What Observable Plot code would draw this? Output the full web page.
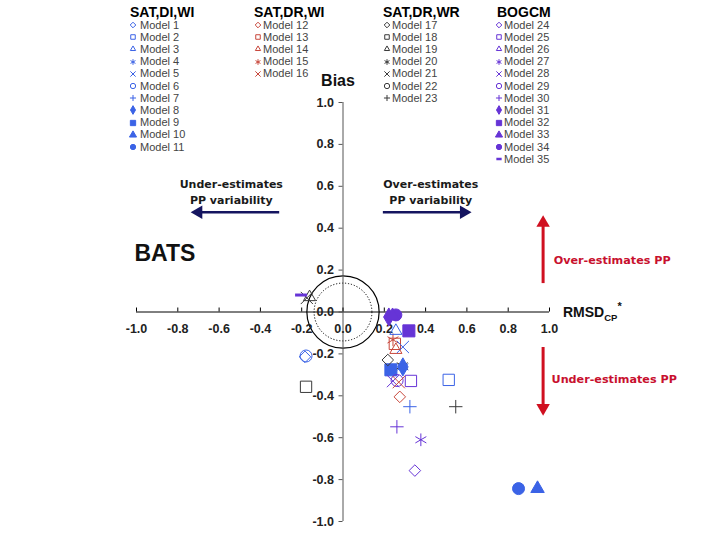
<!DOCTYPE html>
<html><head><meta charset="utf-8">
<script src="https://cdn.jsdelivr.net/npm/d3@7"></script>
<script src="https://cdn.jsdelivr.net/npm/@observablehq/plot@0.6"></script>
<style>
body{margin:0;background:#fff;}
#wrap{position:relative;width:720px;height:540px;overflow:hidden;font-family:"Liberation Sans",Arial,sans-serif;background:#fff;}
.lt{position:absolute;font-weight:bold;font-size:14px;color:#000;line-height:14px;height:14px;white-space:nowrap;}
.li{position:absolute;font-size:11px;color:#444;line-height:11px;height:11px;white-space:nowrap;}
.lm{position:absolute;}
</style></head><body><div id="wrap"></div>
<script>
// ---- data ----
const groupTitles = ["SAT,DI,WI", "SAT,DR,WI", "SAT,DR,WR", "BOGCM"];
const groupColors = ["#3b63e6", "#c8473b", "#3a3a3a", "#6634d6"];
const groupFirstModel = [1, 12, 17, 24];
const groupSize = [11, 5, 7, 12];
// shape order used in every group
const shapeNames = ["diamond2", "square2", "triangle2", "asterisk", "times", "circle", "plus", "diamond", "square", "triangle", "circle", "dash"];
const shapeFilled = [false, false, false, false, false, false, false, true, true, true, true, false];

const xTicks = [-1.0, -0.8, -0.6, -0.4, -0.2, 0.0, 0.2, 0.4, 0.6, 0.8, 1.0];
const yTicks = [-1.0, -0.8, -0.6, -0.4, -0.2, 0.0, 0.2, 0.4, 0.6, 0.8, 1.0];

// points: model number, RMSD_CP* (x), Bias (y)
const pointModel = [35, 21, 19, 1, 6, 18, 31, 33, 34, 3, 32, 15, 13, 14, 5, 17, 9, 8, 4, 20, 28, 16, 29, 25, 2, 12, 7, 23, 30, 27, 24, 11, 10];
const pointRMSD  = [-0.203, -0.175, -0.162, -0.184, -0.179, -0.179, 0.222, 0.240, 0.256, 0.256, 0.319, 0.242, 0.251, 0.256, 0.290, 0.217, 0.232, 0.290, 0.290, 0.287, 0.242, 0.270, 0.262, 0.329, 0.512, 0.275, 0.324, 0.546, 0.261, 0.377, 0.348, 0.850, 0.942];
const pointBias  = [0.081, 0.067, 0.071, -0.214, -0.210, -0.357, -0.024, -0.018, -0.014, -0.090, -0.090, -0.133, -0.152, -0.181, -0.167, -0.229, -0.276, -0.262, -0.262, -0.257, -0.330, -0.335, -0.327, -0.329, -0.324, -0.405, -0.452, -0.452, -0.548, -0.610, -0.757, -0.843, -0.843];

const targetRadii = [0.175, 0.14];

// ---- derived ----
function modelInfo(m) {
  let g = 0;
  for (let i = 0; i < 4; i++) if (m >= groupFirstModel[i]) g = i;
  const k = m - groupFirstModel[g];
  return {group: g, shape: shapeNames[k], filled: shapeFilled[k], color: groupColors[g]};
}
const points = pointModel.map((m, i) => ({model: m, x: pointRMSD[i], y: pointBias[i], ...modelInfo(m)}));
const dotPts = points.filter(d => d.shape !== "dash");
const dashPts = points.filter(d => d.shape === "dash");

const dashSymbol = {draw(ctx, size) { const r = Math.sqrt(size / Math.PI) * 1.0; ctx.moveTo(-r, 0); ctx.lineTo(r, 0); }};
// marker radius (px) per symbol
const markerR = {diamond2: 5.2, square2: 7.2, triangle2: 5.8, asterisk: 6, times: 5.6, circle: 6, plus: 4.4,
  diamond: 5.5, square: 6.8, triangle: 5, dash: 6};

const W = 720, H = 540, mL = 136, mR = 171, mT = 102, mB = 19;
const pxPerUnit = (W - mL - mR) / 2;

const notes = [
  {x: -0.541, y: 0.576, text: "Under-estimates\nPP variability"},
  {x: 0.425, y: 0.576, text: "Over-estimates\nPP variability"}
];
const redNotes = [
  {x: 1.02, y: 0.248, text: "Over-estimates PP"},
  {x: 1.01, y: -0.324, text: "Under-estimates PP"}
];
const navyArrows = [
  {x1: -0.309, x2: -0.70, y: 0.476, dir: -90},
  {x1: 0.193, x2: 0.585, y: 0.476, dir: 90}
];
const redArrows = [
  {x: 0.969, y1: 0.138, y2: 0.425, dir: 0},
  {x: 0.969, y1: -0.167, y2: -0.458, dir: 180}
];

const chart = Plot.plot({
  width: W, height: H,
  marginLeft: mL, marginRight: mR, marginTop: mT, marginBottom: mB,
  x: {domain: [-1, 1], axis: null},
  y: {domain: [-1, 1], axis: null},
  r: {type: "identity"},
  symbol: {type: "identity"},
  style: {fontFamily: "Liberation Sans, Arial, sans-serif", background: "white", overflow: "visible", color: "#222"},
  marks: [
    // target circles
    Plot.dot([0], {x: 0, y: 0, r: targetRadii[0] * pxPerUnit, stroke: "#000", fill: "none", strokeWidth: 1.2}),
    Plot.dot([0], {x: 0, y: 0, r: targetRadii[1] * pxPerUnit, stroke: "#000", fill: "none", strokeWidth: 1, strokeDasharray: "1.2,1.8"}),
    // axes
    Plot.ruleY([0], {x1: -1, x2: 1, stroke: "#000", strokeWidth: 1}),
    Plot.ruleX([0], {y1: -1, y2: 1, stroke: "#555", strokeWidth: 1}),
    Plot.ruleX(xTicks, {x: d => d, y1: 0, y2: 0, insetTop: -4, stroke: "#000"}),
    Plot.ruleY(yTicks, {y: d => d, x1: 0, x2: 0, insetLeft: -4, stroke: "#555"}),
    Plot.text(xTicks, {x: d => d, y: 0, dy: 17, text: d => d.toFixed(1), fontSize: 12.5, fontWeight: "bold", fill: "#222"}),
    Plot.text(yTicks, {x: 0, y: d => d, dx: -9, textAnchor: "end", text: d => d.toFixed(1), fontSize: 12.5, fontWeight: "bold", fill: "#222"}),
    Plot.text(["Bias"], {x: 0, y: 1, dy: -22, dx: -5, text: d => d, fontSize: 16, fontWeight: "bold", fill: "#111"}),
    // annotations
    Plot.text(["BATS"], {x: -1.01, y: 0.28, text: d => d, textAnchor: "start", fontSize: 23, fontWeight: "bold", fill: "#111"}),
    Plot.text(notes, {x: "x", y: "y", text: "text", fontFamily: "DejaVu Sans", fontSize: 11, fontWeight: "bold", lineHeight: 1.45, fill: "#1a1a1a"}),
    Plot.text(redNotes, {x: "x", y: "y", text: "text", textAnchor: "start", fontFamily: "DejaVu Sans", fontSize: 11.2, fontWeight: "bold", fill: "#c8102e"}),
    Plot.link(navyArrows, {x1: "x1", x2: "x2", y1: "y", y2: "y", stroke: "#151560", strokeWidth: 2.4}),
    Plot.dot(navyArrows, {x: "x2", y: "y", symbol: () => "triangle", rotate: "dir", r: () => 5, fill: "#151560", stroke: "none"}),
    Plot.link(redArrows, {x1: "x", x2: "x", y1: "y1", y2: "y2", stroke: "#d01020", strokeWidth: 3}),
    Plot.dot(redArrows, {x: "x", y: "y2", symbol: () => "triangle", rotate: "dir", r: () => 5, fill: "#d01020", stroke: "none"}),
    // model points
    Plot.dot(dotPts, {x: "x", y: "y", symbol: "shape", r: d => markerR[d.shape], fill: d => d.filled ? d.color : "none", stroke: "color", strokeWidth: 1}),
    Plot.dot(dashPts, {x: "x", y: "y", symbol: () => dashSymbol, r: () => markerR.dash, fill: "none", stroke: "color", strokeWidth: 3})
  ]
});

const wrap = document.getElementById("wrap");
wrap.appendChild(chart);

// RMSD_CP* axis title
const xs = chart.scale("x"), ys = chart.scale("y");
const svg = d3.select(chart);
const t = svg.append("text")
  .attr("x", xs.apply(1) + 14).attr("y", ys.apply(0) + 5)
  .attr("text-anchor", "start")
  .attr("font-family", "Liberation Sans, Arial, sans-serif")
  .attr("font-weight", "bold").attr("font-size", 14).attr("fill", "#111");
t.append("tspan").text("RMSD");
t.append("tspan").attr("font-size", 9.5).attr("dy", 4).text("CP");
t.append("tspan").attr("font-size", 11).attr("dy", -11).text("*");

// legend (HTML overlay)
const legendCols = [
  {title: 130, marker: 133, text: 140},
  {title: 254, marker: 258, text: 263},
  {title: 383, marker: 387, text: 392},
  {title: 497, marker: 499, text: 504}
];
const d3Sym = {diamond2: d3.symbolDiamond2, square2: d3.symbolSquare2, triangle2: d3.symbolTriangle2, asterisk: d3.symbolAsterisk,
  times: d3.symbolTimes, circle: d3.symbolCircle, plus: d3.symbolPlus, diamond: d3.symbolDiamond, square: d3.symbolSquare,
  triangle: d3.symbolTriangle, dash: dashSymbol};
const legendSize = {diamond2: 20, square2: 26, triangle2: 20, asterisk: 22, times: 20, circle: 22, plus: 14,
  diamond: 22, square: 28, triangle: 22, dash: 22};
groupTitles.forEach((title, g) => {
  const col = legendCols[g];
  const td = document.createElement("div");
  td.className = "lt"; td.style.left = col.title + "px"; td.style.top = "5px"; td.textContent = title;
  wrap.appendChild(td);
  for (let k = 0; k < groupSize[g]; k++) {
    const m = groupFirstModel[g] + k;
    const info = modelInfo(m);
    const cy = 25 + k * 12.2;
    const s = d3.select(wrap).append("svg").attr("class", "lm").attr("width", 10).attr("height", 10)
      .style("left", (col.marker - 5) + "px").style("top", (cy - 5) + "px");
    s.append("path").attr("transform", "translate(5,5)")
      .attr("d", d3.symbol(d3Sym[info.shape], legendSize[info.shape])())
      .attr("fill", info.filled ? info.color : "none").attr("stroke", info.color)
      .attr("stroke-width", info.shape === "dash" ? 2.5 : 1);
    const it = document.createElement("div");
    it.className = "li"; it.style.left = col.text + "px"; it.style.top = (cy - 5.5) + "px";
    it.textContent = "Model " + m;
    wrap.appendChild(it);
  }
});
</script>
</body></html>
